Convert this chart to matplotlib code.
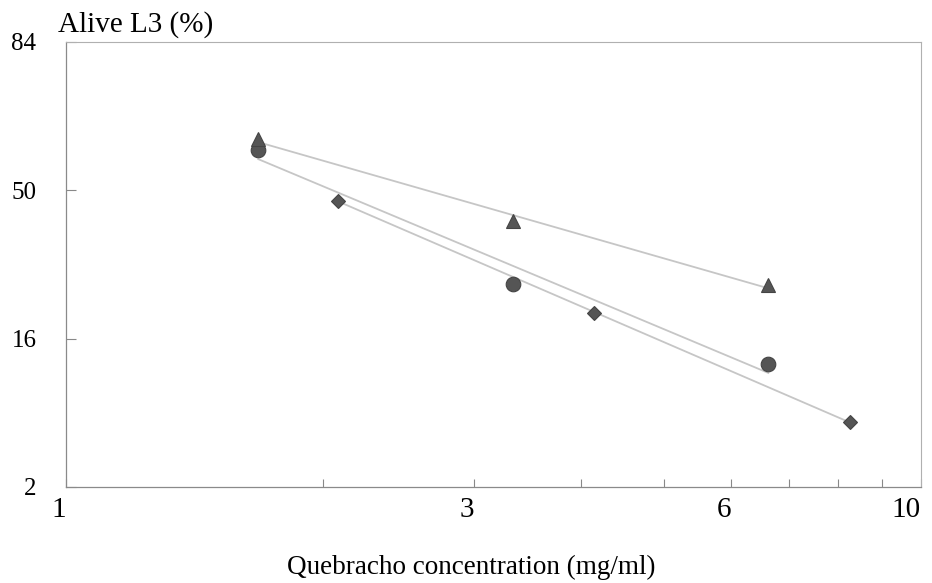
import numpy as np
import matplotlib
matplotlib.use("Agg")
import matplotlib.pyplot as plt
from statistics import NormalDist

# ---- data ----
conc_a = [1.68, 3.33, 6.63]          # triangles / circles concentrations (mg/ml)
alive_triangle = [63.5, 41.8, 26.1]  # % alive L3
alive_circle = [60.7, 26.4, 12.1]
conc_b = [2.08, 4.15, 8.27]          # diamonds concentrations
alive_diamond = [47.2, 20.4, 5.9]

x_major = [1, 3, 6, 10]
x_major_labels = ["1", "3", "6", "10"]
x_minor = [2, 4, 5, 7, 8, 9]
y_tick_pct = [2, 16, 50, 84]
y_tick_labels = ["2", "16", "50", "84"]

_nd = NormalDist()
_inv = np.vectorize(_nd.inv_cdf, otypes=[float])
_cdf = np.vectorize(_nd.cdf, otypes=[float])


def probit(p):
    p = np.clip(np.asarray(p, dtype=float) / 100.0, 1e-9, 1 - 1e-9)
    return _inv(p)


def inv_probit(z):
    z = np.asarray(z, dtype=float)
    return 100.0 * _cdf(z)


plt.rcParams['font.family'] = ['Liberation Serif', 'DejaVu Serif']

fig = plt.figure(figsize=(9.32, 5.83), dpi=100)
ax = fig.add_axes([0.0704, 0.1647, 0.9178, 0.7633])
ax.set_xscale('log')
ax.set_yscale('function', functions=(probit, inv_probit))

mcol = '#555555'
lcol = '#c6c6c6'


def fit_line(xs, ys):
    lx = np.log10(xs)
    zy = probit(ys)
    b, a = np.polyfit(lx, zy, 1)
    xx = np.array([min(xs), max(xs)])
    return xx, inv_probit(a + b * np.log10(xx))


for xs, ys in [(conc_a, alive_triangle), (conc_a, alive_circle), (conc_b, alive_diamond)]:
    xx, yy = fit_line(xs, ys)
    ax.plot(xx, yy, color=lcol, lw=1.3, zorder=2)

ax.plot(conc_a, alive_circle, 'o', ms=10.5, color=mcol, mec='#444444', mew=0.8, zorder=3)
ax.plot(conc_a, alive_triangle, '^', ms=10, color=mcol, mec='#444444', mew=0.8, zorder=4)
ax.plot(conc_b, alive_diamond, 'D', ms=7.5, color=mcol, mec='#444444', mew=0.8, zorder=3)

ax.set_xlim(1, 10)
ax.set_ylim(float(inv_probit(-2.0)), float(inv_probit(1.0)))

ax.set_xticks(x_major)
ax.set_xticklabels(x_major_labels)
ax.set_xticks(x_minor, minor=True)
ax.xaxis.set_minor_formatter(matplotlib.ticker.NullFormatter())
ax.set_yticks(inv_probit(probit(y_tick_pct).round(0)))
ax.set_yticklabels(y_tick_labels)
ax.yaxis.set_minor_locator(matplotlib.ticker.NullLocator())

ax.tick_params(axis='x', which='both', direction='in', length=6, width=0.8,
               color='#888888', labelsize=21, pad=7)
ax.tick_params(axis='y', which='both', direction='in', length=7, width=0.8,
               color='#888888', labelsize=18, pad=21)
for lab in ax.get_xticklabels():
    lab.set_ha('right')

for side in ['left', 'bottom']:
    ax.spines[side].set_color('#8a8a8a')
    ax.spines[side].set_linewidth(0.9)
for side in ['top', 'right']:
    ax.spines[side].set_color('#b0b0b0')
    ax.spines[side].set_linewidth(0.8)

fig.text(58 / 932, 1 - 32 / 583, "Alive L3 (%)", fontsize=21, ha='left', va='baseline')
fig.text(471 / 932, 1 - 567 / 583, "Quebracho concentration (mg/ml)", fontsize=19.5,
         ha='center', va='center')

fig.savefig("out.png", dpi=100)
